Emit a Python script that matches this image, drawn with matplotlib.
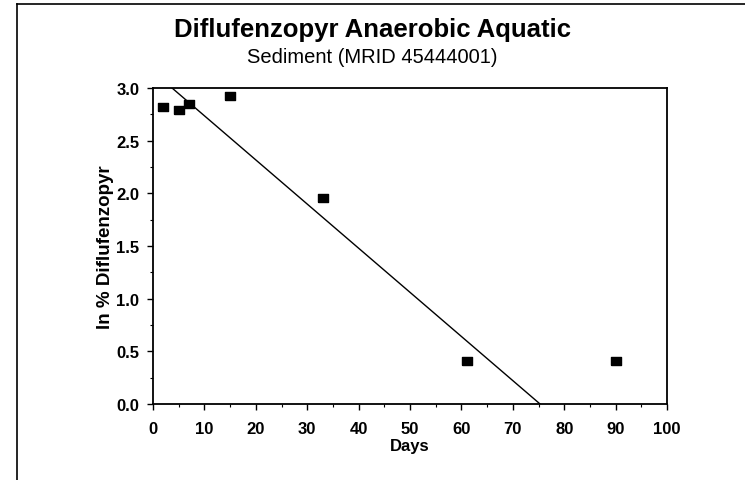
import numpy as np
import matplotlib
matplotlib.use("Agg")
import matplotlib.pyplot as plt
from matplotlib.lines import Line2D
from matplotlib.ticker import MultipleLocator, FormatStrFormatter

plt.rcParams['font.family'] = ['Liberation Sans', 'DejaVu Sans']

# measured data
days = [2, 5, 7, 15, 33, 61, 90]
ln_pct = [2.82, 2.79, 2.85, 2.92, 1.96, 0.41, 0.41]

# regression line (end points)
fit_days = [0, 75.3]
fit_ln = [3.155, 0.0]

# slightly wide square marker like the original
box = [(-1.37, -1), (1.37, -1), (1.37, 1), (-1.37, 1), (-1.37, -1)]

fig = plt.figure(figsize=(7.45, 4.81), dpi=100)
ax = fig.add_axes([0.2054, 0.158, 0.6899, 0.657])

ax.plot(fit_days, fit_ln, color='black', lw=1.0)
ax.plot(days, ln_pct, linestyle='none', marker=box, ms=7.8, color='black', zorder=3, clip_on=False)

ax.set_xlim(0, 100)
ax.set_ylim(0, 3.0)
ax.xaxis.set_major_locator(MultipleLocator(10))
ax.xaxis.set_minor_locator(MultipleLocator(5))
ax.yaxis.set_major_locator(MultipleLocator(0.5))
ax.yaxis.set_minor_locator(MultipleLocator(0.25))
ax.yaxis.set_major_formatter(FormatStrFormatter('%.1f'))
ax.tick_params(axis='both', which='major', length=4, width=1, labelsize=12)
ax.tick_params(axis='x', which='major', pad=8)
ax.tick_params(axis='y', which='major', pad=6)
ax.tick_params(axis='both', which='minor', length=2.5, width=0.8)
for lab in ax.get_xticklabels() + ax.get_yticklabels():
	lab.set_fontweight('bold')
for sp in ax.spines.values():
	sp.set_linewidth(1.3)

ax.set_xlabel("Days", fontsize=12, fontweight='bold', labelpad=2)
ax.set_ylabel("ln % Diflufenzopyr", fontsize=13.5, fontweight='bold', labelpad=1.5)

fig.text(0.5, 0.937, "Diflufenzopyr Anaerobic Aquatic", ha='center', va='center',
	fontsize=18.5, fontweight='bold')
fig.text(0.5, 0.881, "Sediment (MRID 45444001)", ha='center', va='center', fontsize=14.5)

# page frame (left and top edges)
fig.add_artist(Line2D([17/745, 17/745], [0, 1-5/481], color='black', lw=1.2))
fig.add_artist(Line2D([17/745, 1], [1-5/481, 1-5/481], color='black', lw=1.2))

plt.savefig("out.png", dpi=100)
